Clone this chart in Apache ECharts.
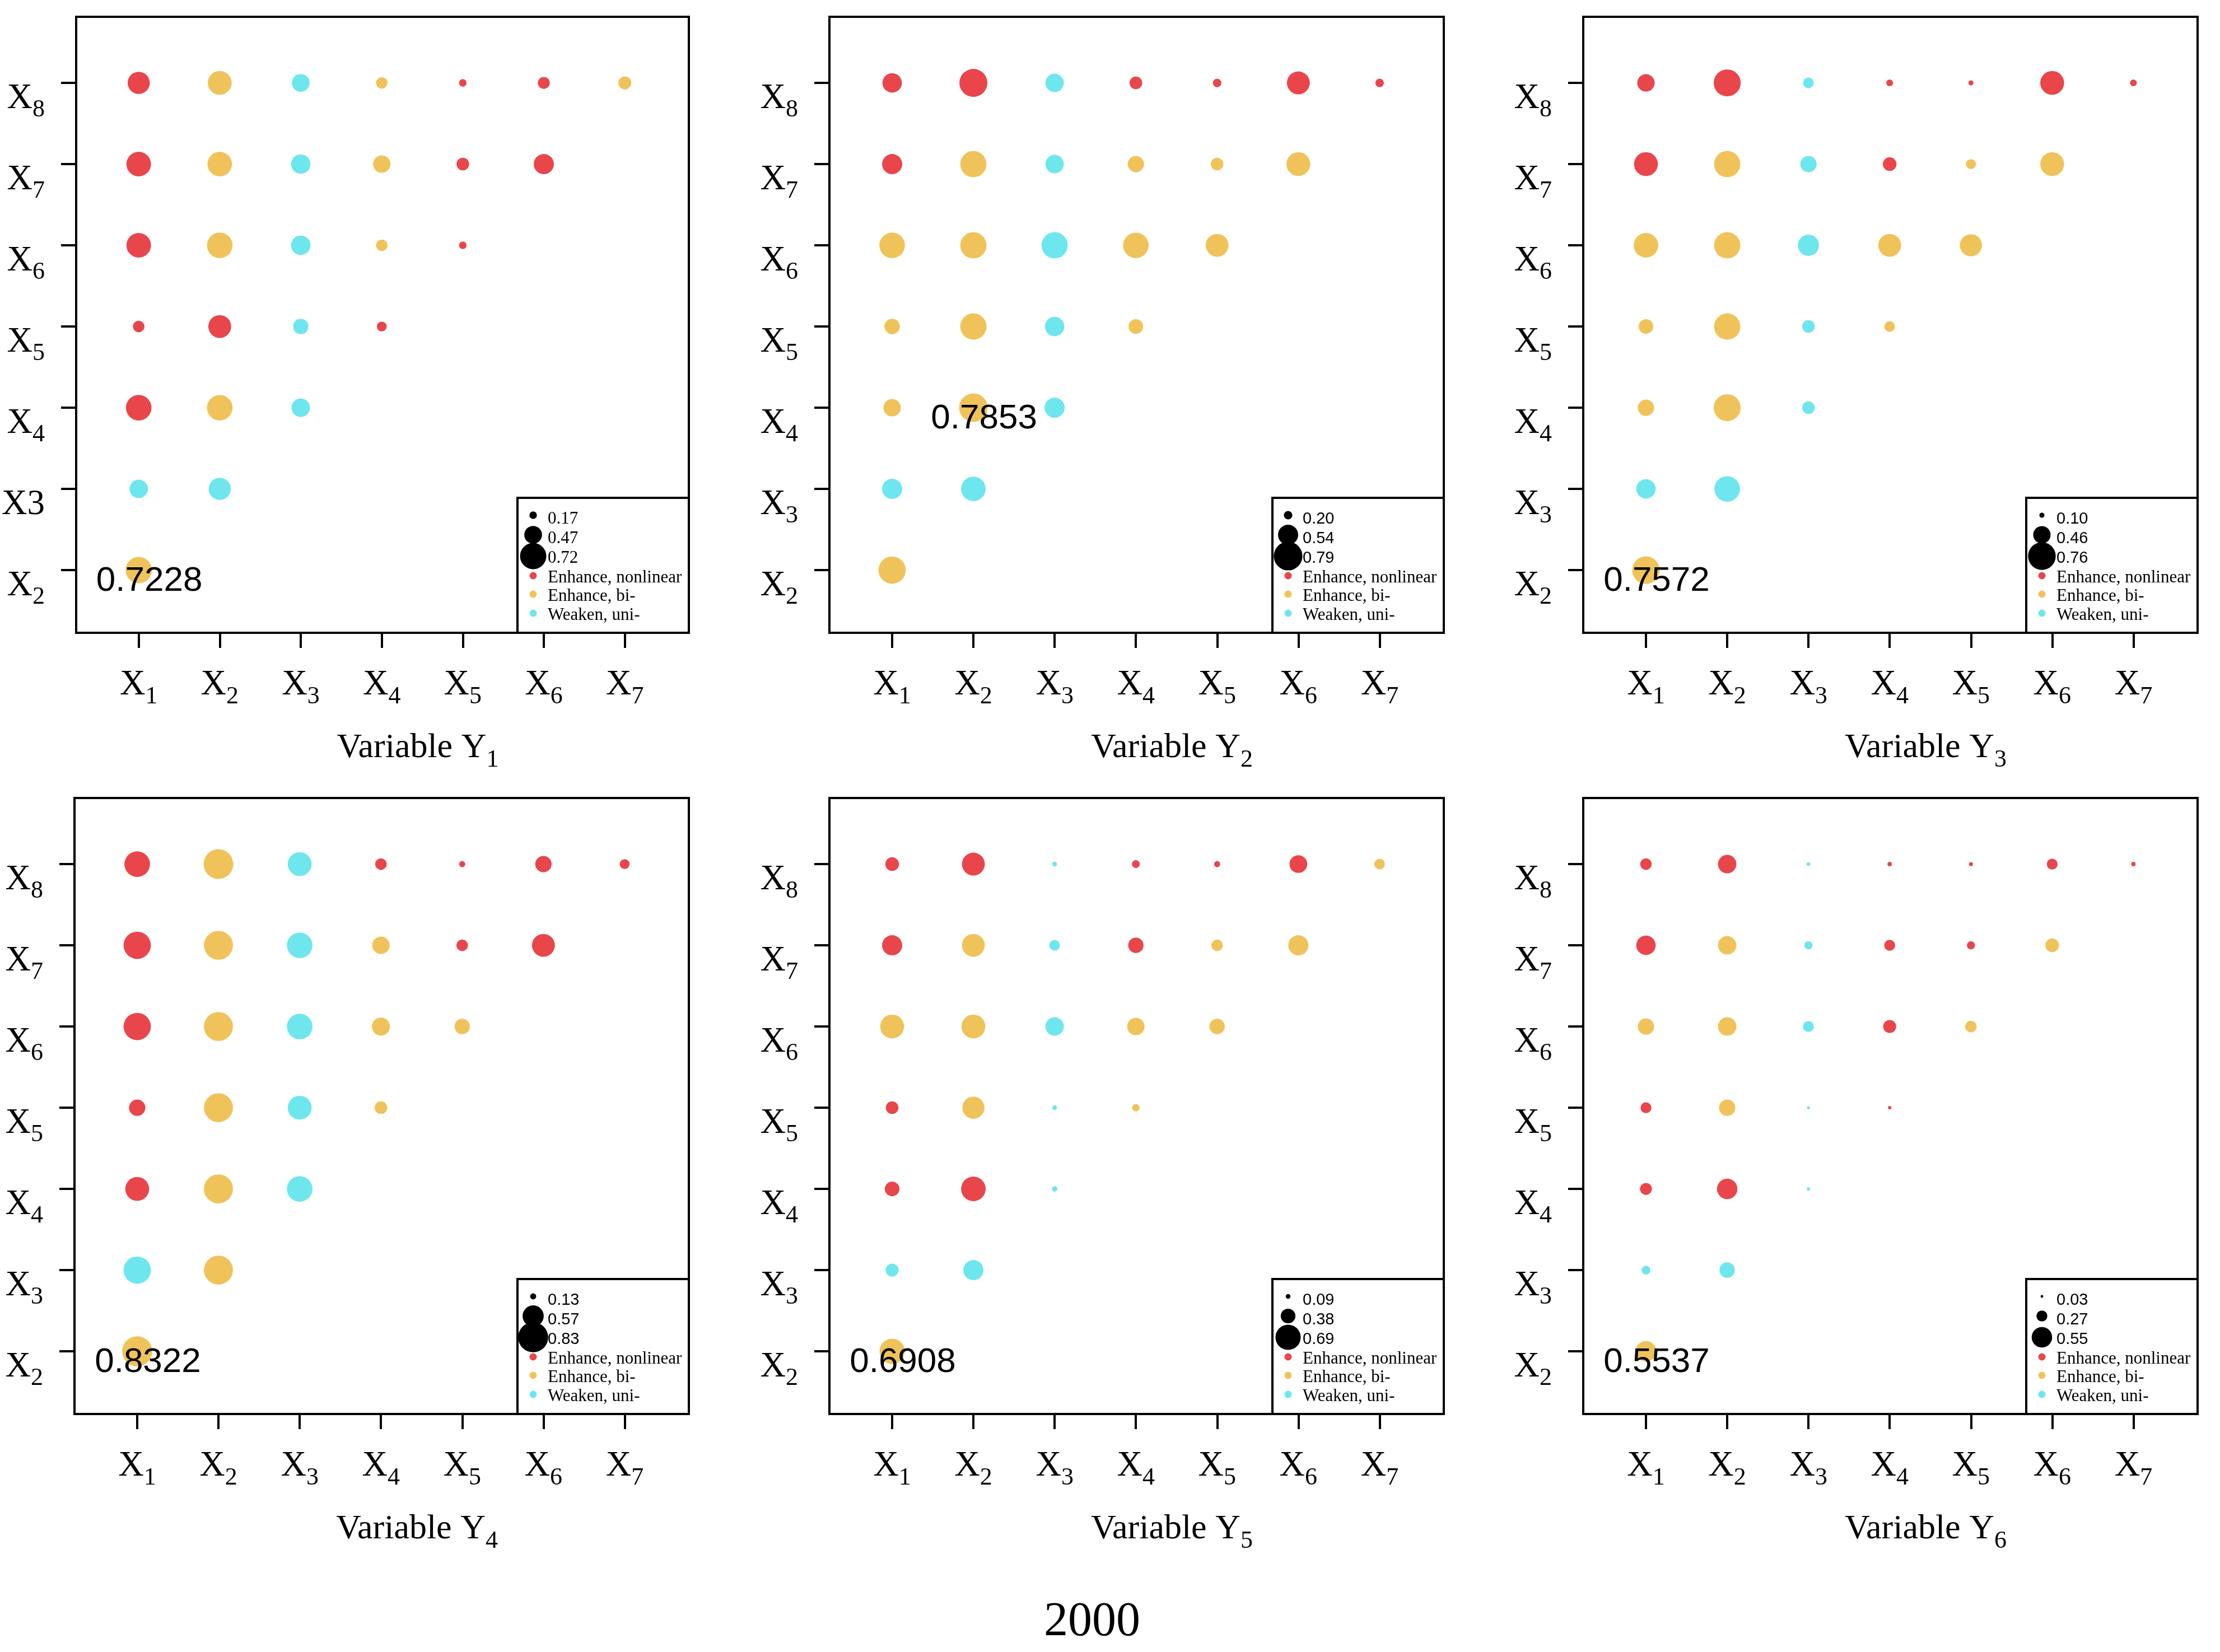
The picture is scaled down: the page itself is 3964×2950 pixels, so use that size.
<!DOCTYPE html>
<html>
<head>
<meta charset="utf-8">
<title>2000</title>
<script src="https://cdn.jsdelivr.net/npm/echarts@6/dist/echarts.min.js"></script>
<style>
    html, body { margin: 0; padding: 0; background: #fff; }
    #main { width: 3964px; height: 2950px; }
</style>
</head>
<body>
<div id="main"></div>
<script>
// tick labels, "X|1" -> X with subscript 1
var xTicks = ['X|1', 'X|2', 'X|3', 'X|4', 'X|5', 'X|6', 'X|7'];
var yTicks = ['X|2', 'X|3', 'X|4', 'X|5', 'X|6', 'X|7', 'X|8'];
var yTicksY1 = ['X|2', 'X3', 'X|4', 'X|5', 'X|6', 'X|7', 'X|8']; // first panel prints X3 flat
var legendNames = ['Enhance, nonlinear', 'Enhance, bi-', 'Weaken, uni-'];

// q values, one row per y variable (X2..X8), columns X1..X(n-1)
// type: n = enhance nonlinear, b = enhance bi-, u = weaken uni-
var y1Q = [[0.7228], [0.49, 0.60], [0.70, 0.70, 0.49], [0.29, 0.62, 0.40, 0.24],
    [0.67, 0.70, 0.52, 0.29, 0.17], [0.67, 0.67, 0.52, 0.46, 0.32, 0.54],
    [0.60, 0.65, 0.47, 0.29, 0.17, 0.30, 0.33]];
var y1Type = ['b', 'uu', 'nbu', 'nnun', 'nbubn', 'nbubnn', 'nbubnnb'];
var y1Legend = [0.17, 0.47, 0.72];

var y2Q = [[0.75], [0.54, 0.67], [0.46, 0.7853, 0.54], [0.40, 0.72, 0.52, 0.38],
    [0.70, 0.72, 0.72, 0.70, 0.62], [0.54, 0.72, 0.49, 0.43, 0.32, 0.65],
    [0.52, 0.77, 0.49, 0.32, 0.20, 0.62, 0.20]];
var y2Type = ['b', 'uu', 'bbu', 'bbub', 'bbubb', 'nbubbb', 'nnunnnn'];
var y2Legend = [0.20, 0.54, 0.79];

var y3Q = [[0.7572], [0.52, 0.70], [0.43, 0.74, 0.32], [0.38, 0.72, 0.32, 0.26],
    [0.67, 0.72, 0.57, 0.62, 0.60], [0.65, 0.72, 0.43, 0.35, 0.24, 0.65],
    [0.46, 0.74, 0.26, 0.15, 0.10, 0.65, 0.15]];
var y3Type = ['b', 'uu', 'bbu', 'bbub', 'bbubb', 'nbunbb', 'nnunnnn'];
var y3Legend = [0.10, 0.46, 0.76];

var y4Q = [[0.8322], [0.75, 0.80], [0.65, 0.80, 0.70], [0.43, 0.80, 0.65, 0.32],
    [0.75, 0.80, 0.70, 0.48, 0.40], [0.75, 0.80, 0.70, 0.46, 0.29, 0.62],
    [0.70, 0.82, 0.65, 0.29, 0.13, 0.43, 0.24]];
var y4Type = ['b', 'ub', 'nbu', 'nbub', 'nbubb', 'nbubnn', 'nbunnnn'];
var y4Legend = [0.13, 0.57, 0.83];

var y5Q = [[0.6908], [0.33, 0.54], [0.38, 0.67, 0.11], [0.32, 0.60, 0.09, 0.17],
    [0.65, 0.65, 0.49, 0.46, 0.40], [0.54, 0.62, 0.26, 0.40, 0.29, 0.54],
    [0.35, 0.62, 0.09, 0.18, 0.13, 0.47, 0.26]];
var y5Type = ['b', 'uu', 'nnu', 'nbub', 'bbubb', 'nbunbb', 'nnunnnb'];
var y5Legend = [0.09, 0.38, 0.69];

var y6Q = [[0.5537], [0.21, 0.40], [0.30, 0.55, 0.05], [0.27, 0.43, 0.04, 0.05],
    [0.43, 0.49, 0.27, 0.33, 0.29], [0.52, 0.49, 0.19, 0.27, 0.19, 0.35],
    [0.29, 0.49, 0.06, 0.08, 0.07, 0.27, 0.08]];
var y6Type = ['b', 'uu', 'nnu', 'nbun', 'bbunb', 'nbunnb', 'nnunnnn'];
var y6Legend = [0.03, 0.27, 0.55];

// point carrying the printed value [x index, y index]
var peaks = [[1, 2], [2, 4], [1, 2], [1, 2], [1, 2], [1, 2]];

var SERIF = "'Liberation Serif', 'Times New Roman', serif";
var SANS = "'Liberation Sans', Arial, sans-serif";
var typeColor = { n: '#E8464B', b: '#F0C35A', u: '#6EE6EE' };
var legendColors = [typeColor.n, typeColor.b, typeColor.u];

var panels = [
    { sub: '1', q: y1Q, t: y1Type, leg: y1Legend, ticks: yTicksY1, legFont: SERIF },
    { sub: '2', q: y2Q, t: y2Type, leg: y2Legend, ticks: yTicks, legFont: SANS },
    { sub: '3', q: y3Q, t: y3Type, leg: y3Legend, ticks: yTicks, legFont: SANS },
    { sub: '4', q: y4Q, t: y4Type, leg: y4Legend, ticks: yTicks, legFont: SANS },
    { sub: '5', q: y5Q, t: y5Type, leg: y5Legend, ticks: yTicks, legFont: SANS },
    { sub: '6', q: y6Q, t: y6Type, leg: y6Legend, ticks: yTicks, legFont: SANS }
];

// layout (px)
var lefts = [133, 1481, 2827];
var tops = [30, 1425];
var GW = 1097, GH = 1100;

function sizeOf(v) {
    return 3 + 61 * v;
}

function richText(s) {
    var p = s.split('|');
    return p.length > 1 ? '{x|' + p[0] + '}{s|' + p[1] + '}' : '{x|' + s + '}';
}

var richStyle = {
    x: { fontFamily: SERIF, fontSize: 63, lineHeight: 63, color: '#000', verticalAlign: 'top' },
    s: { fontFamily: SERIF, fontSize: 44, lineHeight: 44, color: '#000', verticalAlign: 'top', padding: [30, 0, 0, 0] }
};

var grids = [], xAxes = [], yAxes = [], series = [], graphics = [];

panels.forEach(function (p, k) {
    var gl = lefts[k % 3], gt = tops[Math.floor(k / 3)];
    grids.push({
        left: gl, top: gt, width: GW, height: GH,
        show: true, borderColor: '#000', borderWidth: 4, backgroundColor: 'transparent'
    });
    xAxes.push({
        type: 'value', gridIndex: k, min: 0.228, max: 7.79,
        splitLine: { show: false },
        axisLine: { show: true, onZero: false, lineStyle: { color: '#000', width: 4 } },
        axisTick: { show: true, length: 27, lineStyle: { color: '#000', width: 4 }, customValues: [1, 2, 3, 4, 5, 6, 7] },
        axisLabel: {
            customValues: [1, 2, 3, 4, 5, 6, 7], margin: 62,
            formatter: function (v) { return richText(xTicks[Math.round(v) - 1]); },
            rich: richStyle
        },
        name: '{n|Variable Y}{s|' + p.sub + '}',
        nameLocation: 'middle', nameGap: 175,
        nameTextStyle: {
            padding: [0, 0, 0, 126],
            rich: {
                n: { fontFamily: SERIF, fontSize: 62, lineHeight: 62, color: '#000', verticalAlign: 'top' },
                s: richStyle.s
            }
        }
    });
    yAxes.push({
        type: 'value', gridIndex: k, min: 1.228, max: 8.814,
        splitLine: { show: false },
        axisLine: { show: true, onZero: false, lineStyle: { color: '#000', width: 4 } },
        axisTick: { show: true, length: 27, lineStyle: { color: '#000', width: 4 }, customValues: [2, 3, 4, 5, 6, 7, 8] },
        axisLabel: {
            customValues: [2, 3, 4, 5, 6, 7, 8], margin: 56, padding: [56, 0, 0, 0],
            formatter: function (v) { return richText(p.ticks[Math.round(v) - 2]); },
            rich: richStyle
        }
    });

    // points of the lower triangle
    var data = [];
    p.q.forEach(function (row, r) {
        row.forEach(function (v, c) {
            var x = c + 1, y = r + 2;
            var item = { value: [x, y, v], itemStyle: { color: typeColor[p.t[r][c]], opacity: 1 } };
            if (peaks[k][0] === x && peaks[k][1] === y) {
                item.label = {
                    show: true, position: 'inside', offset: [19, 20],
                    formatter: v.toFixed(4),
                    fontFamily: SANS, fontSize: 62, color: '#000', opacity: 1,
                    textBorderWidth: 0
                };
            }
            data.push(item);
        });
    });
    series.push({
        type: 'scatter', xAxisIndex: k, yAxisIndex: k,
        symbol: 'circle',
        symbolSize: function (d) { return sizeOf(d[2]); },
        itemStyle: { opacity: 1 },
        label: { show: false },
        data: data
    });

    // legend box in the lower right corner
    var LW = 306, LH = 241;
    var L = gl + GW - LW, T = gt + GH - LH;
    graphics.push({
        type: 'rect', z: 50,
        shape: { x: L, y: T, width: LW, height: LH },
        style: { fill: '#fff', stroke: '#000', lineWidth: 4 }
    });
    var dotY = [31, 66, 104], textY = [38, 73, 108];
    p.leg.forEach(function (v, i) {
        graphics.push({
            type: 'circle', z: 51,
            shape: { cx: L + 28, cy: T + dotY[i], r: sizeOf(v) / 2 },
            style: { fill: '#000' }
        });
        graphics.push({
            type: 'text', z: 52, x: L + 54, y: T + textY[i],
            style: {
                text: v.toFixed(2), fill: '#000', verticalAlign: 'middle', align: 'left',
                fontFamily: p.legFont, fontSize: p.legFont === SERIF ? 31 : 29
            }
        });
    });
    var cDotY = [139, 172, 206], cTextY = [143, 176, 210];
    legendNames.forEach(function (n, i) {
        graphics.push({
            type: 'circle', z: 51,
            shape: { cx: L + 28, cy: T + cDotY[i], r: 6.5 },
            style: { fill: legendColors[i] }
        });
        graphics.push({
            type: 'text', z: 52, x: L + 54, y: T + cTextY[i],
            style: {
                text: n, fill: '#000', verticalAlign: 'middle', align: 'left',
                fontFamily: SERIF, fontSize: 31
            }
        });
    });
});

// year under the panels
graphics.push({
    type: 'text', x: 1950, y: 2897,
    style: { text: '2000', fill: '#000', align: 'center', verticalAlign: 'middle', fontFamily: SERIF, fontSize: 86 }
});

var myChart = echarts.init(document.getElementById('main'), null, { renderer: 'canvas', width: 3964, height: 2950 });
myChart.setOption({
    backgroundColor: '#fff',
    animation: false,
    grid: grids,
    xAxis: xAxes,
    yAxis: yAxes,
    series: series,
    graphic: graphics
});
</script>
</body>
</html>
